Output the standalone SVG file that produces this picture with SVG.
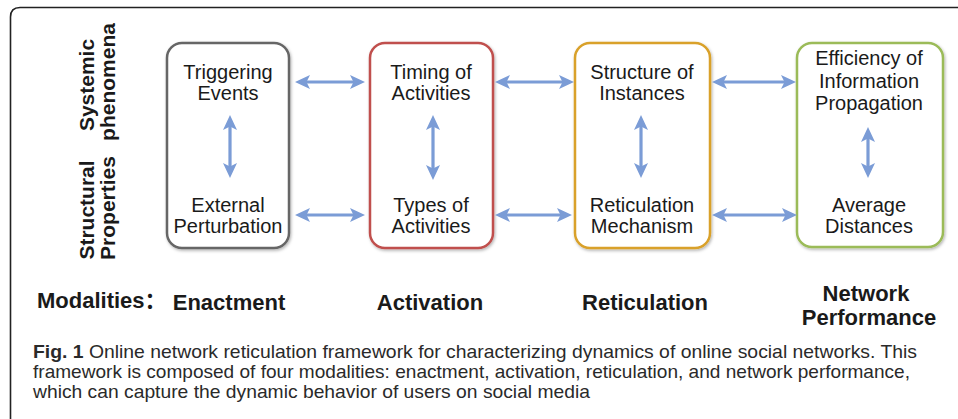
<svg xmlns="http://www.w3.org/2000/svg" width="958" height="419" viewBox="0 0 958 419">
<style>
.box{fill:#ffffff;stroke-width:2.5;filter:url(#sh)}
.t{font-family:"Liberation Sans",Arial,sans-serif;font-size:20px;fill:#1a1a1a;text-anchor:middle}
.side{font-family:"Liberation Sans",Arial,sans-serif;font-size:21px;font-weight:bold;fill:#1a1a1a;text-anchor:middle}
.mod{font-family:"Liberation Sans",Arial,"Noto Sans CJK SC",sans-serif;font-size:22px;font-weight:bold;fill:#1a1a1a}
.cap{font-family:"Liberation Sans",Arial,sans-serif;font-size:17.8px;fill:#2a2a2a}
.arr{stroke:#7b9cd6;stroke-width:3.2;fill:none;marker-start:url(#ah);marker-end:url(#ah)}
</style>
<defs>
<filter id="sh" x="-10%" y="-10%" width="120%" height="120%">
<feDropShadow dx="1" dy="1.5" stdDeviation="1.5" flood-color="#000" flood-opacity="0.3"/>
</filter>
<marker id="ah" viewBox="0 0 15 14" markerWidth="15" markerHeight="14" refX="5" refY="7" orient="auto-start-reverse" markerUnits="userSpaceOnUse">
<path d="M0,0 L15,7 L0,14 L3.5,7 Z" fill="#7b9cd6"/>
</marker>
</defs>
<rect width="958" height="419" fill="#ffffff"/>
<path d="M10.5,419 V17 Q10.5,7.5 20,7.5 H958" fill="none" stroke="#222" stroke-width="1.6"/>

<g id="side-labels">
<text class="side" transform="translate(94,85) rotate(-90)">Systemic</text>
<text class="side" transform="translate(115,82) rotate(-90)">phenomena</text>
<text class="side" transform="translate(94,210) rotate(-90)">Structural</text>
<text class="side" transform="translate(115,208) rotate(-90)">Properties</text>
</g>

<g id="node-enactment">
<rect class="box" x="167" y="43" width="122" height="205" rx="15" stroke="#666666"/>
<text class="t" x="228" y="79">Triggering</text>
<text class="t" x="228" y="100">Events</text>
<text class="t" x="228" y="212">External</text>
<text class="t" x="228" y="233">Perturbation</text>
</g>
<g id="node-activation">
<rect class="box" x="370" y="43" width="123" height="205" rx="15" stroke="#c0504d"/>
<text class="t" x="431" y="79">Timing of</text>
<text class="t" x="431" y="100">Activities</text>
<text class="t" x="431" y="212">Types of</text>
<text class="t" x="431" y="233">Activities</text>
</g>
<g id="node-reticulation">
<rect class="box" x="575" y="43" width="135" height="205" rx="15" stroke="#d9a12a"/>
<text class="t" x="642" y="79">Structure of</text>
<text class="t" x="642" y="100">Instances</text>
<text class="t" x="642" y="212">Reticulation</text>
<text class="t" x="642" y="233">Mechanism</text>
</g>
<g id="node-performance">
<rect class="box" x="797" y="43" width="146" height="204" rx="15" stroke="#9bbb59"/>
<text class="t" x="869" y="65">Efficiency of</text>
<text class="t" x="869" y="88">Information</text>
<text class="t" x="869" y="110">Propagation</text>
<text class="t" x="869" y="212">Average</text>
<text class="t" x="869" y="233">Distances</text>
</g>

<g id="connectors">
<path class="arr" d="M305,82 H355"/>
<path class="arr" d="M305,215 H355"/>
<path class="arr" d="M505,82 H564"/>
<path class="arr" d="M505,215 H562"/>
<path class="arr" d="M722,82 H786"/>
<path class="arr" d="M722,215 H787"/>
<path class="arr" d="M230,125 V168"/>
<path class="arr" d="M433,125 V170"/>
<path class="arr" d="M641,125 V168"/>
<path class="arr" d="M868,137 V168"/>
</g>

<g id="modalities">
<text class="mod" x="37" y="308">Modalities：</text>
<text class="mod" x="229" y="310" text-anchor="middle">Enactment</text>
<text class="mod" x="430" y="310" text-anchor="middle">Activation</text>
<text class="mod" x="645" y="310" text-anchor="middle">Reticulation</text>
<text class="mod" x="866" y="301" text-anchor="middle">Network</text>
<text class="mod" x="869" y="325" text-anchor="middle">Performance</text>
</g>

<g id="caption">
<text class="cap" x="33" y="358" textLength="884" lengthAdjust="spacingAndGlyphs"><tspan font-weight="bold">Fig. 1</tspan> Online network reticulation framework for characterizing dynamics of online social networks. This</text>
<text class="cap" x="33" y="378" textLength="877" lengthAdjust="spacingAndGlyphs">framework is composed of four modalities: enactment, activation, reticulation, and network performance,</text>
<text class="cap" x="33" y="398" textLength="557" lengthAdjust="spacingAndGlyphs">which can capture the dynamic behavior of users on social media</text>
</g>
</svg>
